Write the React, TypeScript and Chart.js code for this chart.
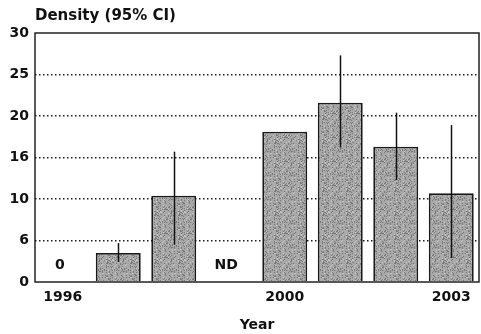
import React, { useEffect, useRef } from "react";
import { Chart, registerables } from "chart.js";

Chart.register(...registerables);

const categories = ["1996", "1997", "1998", "1999", "2000", "2001", "2002", "2003"];
const density = [null, 3.5, 10.4, null, 18.1, 21.6, 16.3, 10.7];
const ciLow = [null, 2.4, 4.5, null, null, 16.2, 12.3, 2.9];
const ciHigh = [null, 4.7, 15.7, null, null, 27.3, 20.4, 18.9];
const shownYears = ["1996", "2000", "2003"];
const gapNotes = ["0", "", "", "ND", "", "", "", ""];
const yTickValues = [0, 5, 10, 15, 20, 25, 30];
const yTickLabels = ["0", "6", "10", "16", "20", "25", "30"];
const titleText = "Density (95% CI)";
const xTitle = "Year";

const FONT = "'DejaVu Sans', sans-serif";

function makeSpeckle(): CanvasPattern | string {
  const c = document.createElement("canvas");
  c.width = 24;
  c.height = 24;
  const g = c.getContext("2d");
  if (!g) return "#a0a0a0";
  g.fillStyle = "#a8a8a8";
  g.fillRect(0, 0, 24, 24);
  for (let yy = 0; yy < 24; yy++) {
    for (let xx = 0; xx < 24; xx++) {
      // fixed integer hash for texture only
      let h = (xx * 374761393 + yy * 668265263) | 0;
      h = (h ^ (h >>> 13)) * 1274126177;
      h = (h ^ (h >>> 16)) >>> 0;
      const r = h % 100;
      if (r < 22) {
        g.fillStyle = "#7a7a7a";
        g.fillRect(xx, yy, 1, 1);
      } else if (r < 30) {
        g.fillStyle = "#c4c4c4";
        g.fillRect(xx, yy, 1, 1);
      }
    }
  }
  const ctx = document.createElement("canvas").getContext("2d");
  const p = ctx ? ctx.createPattern(c, "repeat") : null;
  return p || "#a0a0a0";
}

export default function App() {
  const ref = useRef<HTMLCanvasElement>(null);
  useEffect(() => {
    const canvas = ref.current!;
    const overlay = {
      id: "overlay",
      afterDatasetsDraw(chart: any) {
        const ctx = chart.ctx;
        const x = chart.scales.x;
        const y = chart.scales.y;
        ctx.save();
        ctx.strokeStyle = "#111";
        ctx.lineWidth = 1.5;
        categories.forEach((_, i) => {
          const lo = ciLow[i];
          const hi = ciHigh[i];
          if (lo == null || hi == null) return;
          const px = Math.round(x.getPixelForValue(i)) + 0.5;
          ctx.beginPath();
          ctx.moveTo(px, y.getPixelForValue(lo));
          ctx.lineTo(px, y.getPixelForValue(hi));
          ctx.stroke();
        });
        ctx.fillStyle = "#111";
        ctx.font = `bold 14px ${FONT}`;
        ctx.textAlign = "center";
        ctx.textBaseline = "middle";
        gapNotes.forEach((t, i) => {
          if (!t) return;
          ctx.fillText(t, x.getPixelForValue(i) - 3, y.getPixelForValue(2));
        });
        ctx.textAlign = "left";
        ctx.textBaseline = "alphabetic";
        ctx.font = `bold 15px ${FONT}`;
        ctx.fillText(titleText, chart.chartArea.left, 20);
        ctx.strokeStyle = "#222";
        ctx.lineWidth = 1.5;
        const a = chart.chartArea;
        ctx.strokeRect(a.left, a.top, a.right - a.left, a.bottom - a.top);
        ctx.restore();
      },
    };
    const chart = new Chart(canvas, {
      type: "bar",
      data: {
        labels: categories,
        datasets: [
          {
            data: density as any,
            backgroundColor: makeSpeckle() as any,
            borderColor: "#1a1a1a",
            borderWidth: 1.8,
            categoryPercentage: 1,
            barPercentage: 0.81,
          },
        ],
      },
      options: {
        animation: false,
        responsive: false,
        maintainAspectRatio: false,
        layout: { padding: { top: 33, right: 2, left: 0, bottom: 0 } },
        plugins: { legend: { display: false }, tooltip: { enabled: false }, title: { display: false } },
        scales: {
          x: {
            grid: { display: false, drawTicks: false },
            border: { display: false },
            ticks: {
              autoSkip: false,
              maxRotation: 0,
              color: "#111",
              font: { family: FONT, weight: "bold", size: 14 },
              padding: 7,
              callback: (_v: any, i: number) => (shownYears.includes(categories[i]) ? categories[i] : ""),
            },
            title: {
              display: true,
              text: xTitle,
              color: "#111",
              font: { family: FONT, weight: "bold", size: 14 },
              padding: { top: 7, bottom: 0 },
            },
            afterFit: (s: any) => {
              s.height = 52;
            },
          },
          y: {
            min: 0,
            max: 30,
            afterBuildTicks: (s: any) => {
              s.ticks = yTickValues.map((v) => ({ value: v }));
            },
            grid: {
              drawTicks: false,
              color: (c: any) => (c.tick && c.tick.value > 0 && c.tick.value < 30 ? "#1a1a1a" : "rgba(0,0,0,0)"),
              lineWidth: 1.5,
            },
            border: { display: false, dash: [1.5, 2.5] },
            ticks: {
              color: "#111",
              font: { family: FONT, weight: "bold", size: 14 },
              padding: 6,
              callback: (v: any) => {
                const k = yTickValues.indexOf(Number(v));
                return k >= 0 ? yTickLabels[k] : "";
              },
            },
            afterFit: (s: any) => {
              s.width = 35;
            },
          },
        },
      },
      plugins: [overlay],
    });
    return () => chart.destroy();
  }, []);
  return (
    <div style={{ position: "fixed", left: 0, top: 0, width: 481, height: 334, background: "#fff" }}>
      <canvas ref={ref} width={481} height={334} style={{ width: 481, height: 334 }} />
    </div>
  );
}
